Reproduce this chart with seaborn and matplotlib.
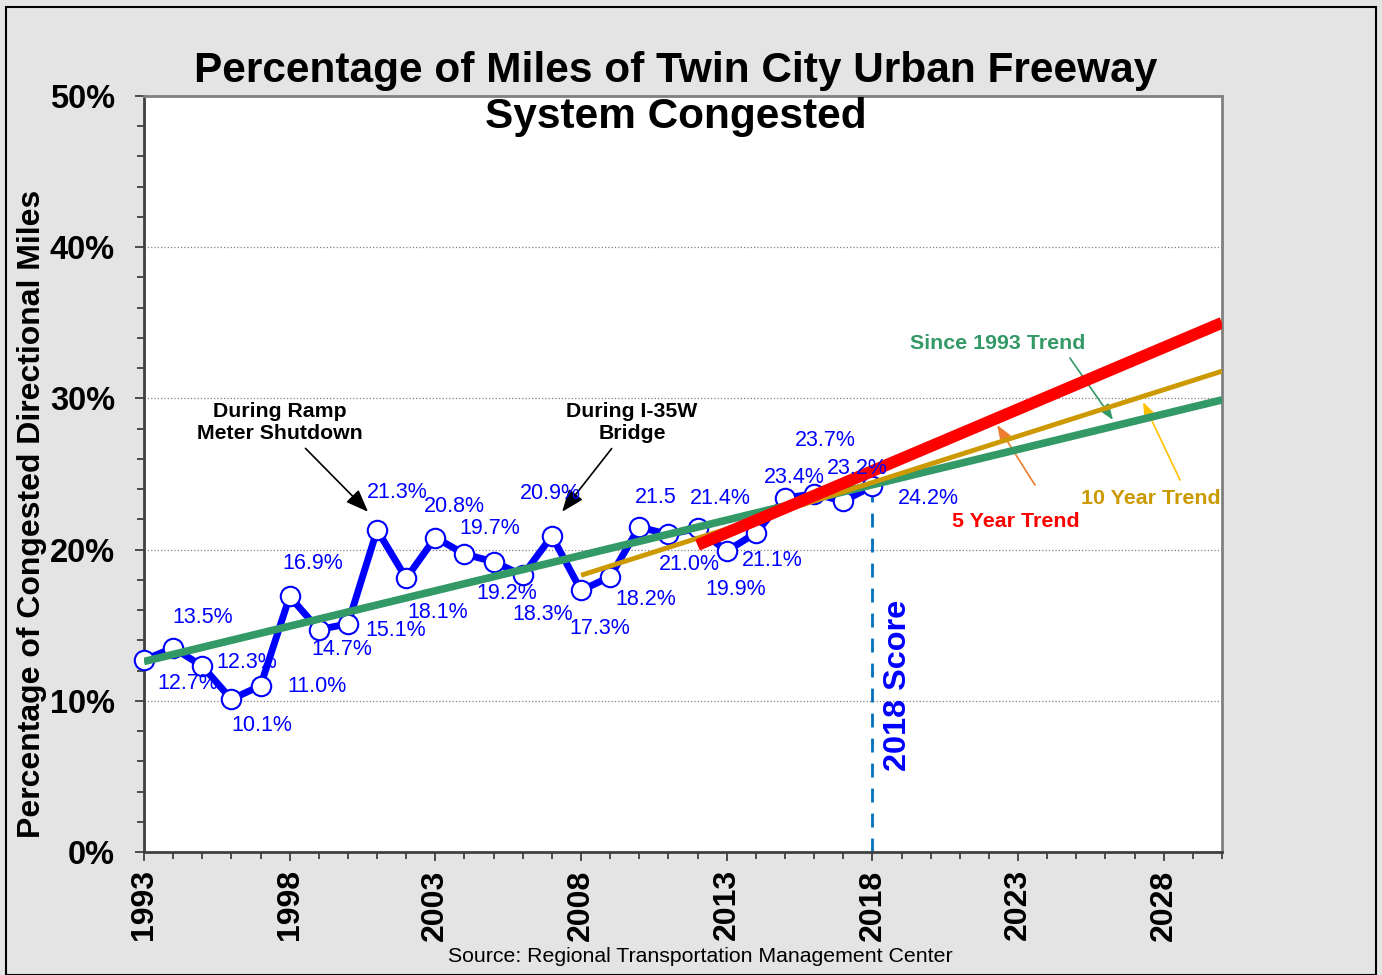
import seaborn as sns
import matplotlib.pyplot as plt
import matplotlib.ticker as mticker
from matplotlib.patches import Rectangle
import pandas as pd

# congestion data, 1993-2018
years = list(range(1993, 2019))
pct = [12.7, 13.5, 12.3, 10.1, 11.0, 16.9, 14.7, 15.1, 21.3, 18.1,
       20.8, 19.7, 19.2, 18.3, 20.9, 17.3, 18.2, 21.5, 21.0, 21.4,
       19.9, 21.1, 23.4, 23.7, 23.2, 24.2]
point_labels = ["12.7%", "13.5%", "12.3%", "10.1%", "11.0%", "16.9%", "14.7%",
                "15.1%", "21.3%", "18.1%", "20.8%", "19.7%", "19.2%", "18.3%",
                "20.9%", "17.3%", "18.2%", "21.5", "21.0%", "21.4%", "19.9%",
                "21.1%", "23.4%", "23.7%", "23.2%", "24.2%"]

# trend lines (start / end)
trend_names = ["Since 1993 Trend", "10 Year Trend", "5 Year Trend"]
trend_years = [[1993, 2030], [2008, 2030], [2012, 2030]]
trend_values = [[12.6, 29.9], [18.3, 31.8], [20.3, 35.0]]

year_ticks = list(range(1993, 2031, 5))

# label offsets in pixels (right, down) from each point
label_offsets = [(44, 24), (30, -30), (44, -4), (30, 26), (56, 1), (23, -33),
                 (23, 20), (48, 7), (20, -37), (31, 34), (19, -31), (25, -26),
                 (13, 32), (20, 39), (-2, -42), (19, 38), (36, 23), (16, -29),
                 (21, 30), (23, -30), (9, 38), (16, 28), (9, -21), (11, -53),
                 (14, -33), (56, 12)]

sns.set_theme(style="white")
plt.rcParams['font.family'] = ['Liberation Sans', 'DejaVu Sans']
plt.rcParams['text.color'] = 'black'
plt.rcParams['xtick.color'] = 'black'
plt.rcParams['ytick.color'] = 'black'

BLUE = '#0000FF'
trend_colors = ['#339966', '#CC9900', '#FF0000']
trend_widths = [5.5, 3.5, 8.5]

fig = plt.figure(figsize=(13.82, 9.75), dpi=100)
fig.patch.set_facecolor('#e4e4e4')
fig.patches.append(Rectangle((6 / 1382, 0), 1370 / 1382, 1 - 7 / 975,
                             transform=fig.transFigure, fill=False,
                             edgecolor='black', lw=1.5))
ax = fig.add_axes([144 / 1382, 1 - 852 / 975, 1078 / 1382, 756 / 975])
ax.set_facecolor('white')

df = pd.DataFrame({"year": years, "pct": pct})

# 2018 score marker line
ax.vlines(years[-1], 0, pct[-1], colors='#0070C0', linestyles=(0, (5, 4)),
          lw=2, zorder=1)

sns.lineplot(data=df, x="year", y="pct", ax=ax, color=BLUE, linewidth=5,
             marker='o', markersize=14, markerfacecolor='white',
             markeredgecolor=BLUE, markeredgewidth=1.5, zorder=3,
             clip_on=False)

for i in range(len(trend_names)):
    tdf = pd.DataFrame({"year": trend_years[i], "pct": trend_values[i]})
    sns.lineplot(data=tdf, x="year", y="pct", ax=ax, color=trend_colors[i],
                 linewidth=trend_widths[i], solid_capstyle='butt', zorder=4)

for yr, v, lab, (dx, dy) in zip(years, pct, point_labels, label_offsets):
    ax.annotate(lab, xy=(yr, v), xytext=(dx, -dy), textcoords='offset pixels',
                ha='center', va='center', color=BLUE, fontsize=15.5, zorder=5)

ax.set_xlim(1993, 2030)
ax.set_ylim(0, 50)
ax.xaxis.set_major_locator(mticker.FixedLocator(year_ticks))
ax.xaxis.set_minor_locator(mticker.MultipleLocator(1))
ax.yaxis.set_major_locator(mticker.MultipleLocator(10))
ax.yaxis.set_minor_locator(mticker.MultipleLocator(2))
ax.yaxis.set_major_formatter(mticker.FuncFormatter(lambda v, p: f"{v:.0f}%"))
ax.xaxis.set_major_formatter(mticker.FuncFormatter(lambda v, p: f"{v:.0f}"))
ax.tick_params(axis='both', which='both', bottom=True, left=True,
               direction='out', width=1.3, color='#404040')
ax.tick_params(axis='both', which='major', length=6.5)
ax.tick_params(axis='both', which='minor', length=5)
ax.tick_params(axis='x', which='major', labelsize=23, pad=6)
ax.tick_params(axis='y', which='major', labelsize=23.5, pad=14.5)
plt.xticks(rotation=90, weight='bold')
plt.yticks(weight='bold')
ax.yaxis.grid(True, which='major', linestyle=':', color='#808080', lw=0.9)
ax.set_axisbelow(True)
ax.set(xlabel='', ylabel='')
for side in ['left', 'bottom']:
    ax.spines[side].set_color('#404040')
    ax.spines[side].set_linewidth(2)
for side in ['top', 'right']:
    ax.spines[side].set_color('#808080')
    ax.spines[side].set_linewidth(2)

# callouts
ax.annotate("During Ramp\nMeter Shutdown", xy=(2000.69, 22.5),
            xytext=(1997.67, 28.4), ha='center', va='center', fontsize=15.3,
            weight='bold', color='black',
            arrowprops=dict(arrowstyle='-|>,head_width=0.35,head_length=0.9',
                            color='black', lw=1.2, shrinkA=2, shrinkB=0))
ax.annotate("During I-35W\nBridge", xy=(2007.35, 22.5),
            xytext=(2009.75, 28.4), ha='center', va='center', fontsize=15.3,
            weight='bold', color='black',
            arrowprops=dict(arrowstyle='-|>,head_width=0.35,head_length=0.9',
                            color='black', lw=1.2, shrinkA=2, shrinkB=0))

ax.text(2022.31, 33.6, trend_names[0], ha='center', va='center',
        fontsize=15.4, weight='bold', color=trend_colors[0])
ax.annotate('', xy=(2026.26, 28.57), xytext=(2024.78, 32.67),
            arrowprops=dict(arrowstyle='-|>,head_width=0.3,head_length=0.8',
                            color=trend_colors[0], lw=1.2, shrinkA=0, shrinkB=0))
ax.text(2022.93, 21.89, trend_names[2], ha='center', va='center',
        fontsize=15.4, weight='bold', color=trend_colors[2])
ax.annotate('', xy=(2022.28, 28.24), xytext=(2023.58, 24.27),
            arrowprops=dict(arrowstyle='-|>,head_width=0.3,head_length=0.8',
                            color='#ED7D31', lw=1.2, shrinkA=0, shrinkB=0))
ax.text(2027.56, 23.41, trend_names[1], ha='center', va='center',
        fontsize=15.4, weight='bold', color=trend_colors[1])
ax.annotate('', xy=(2027.29, 29.76), xytext=(2028.56, 24.6),
            arrowprops=dict(arrowstyle='-|>,head_width=0.3,head_length=0.8',
                            color='#FFC000', lw=1.2, shrinkA=0, shrinkB=0))

ax.text(2018.88, 11.0, "2018 Score", rotation=90, ha='center', va='center',
        fontsize=23.4, weight='bold', color=BLUE)

fig.text(676 / 1382, 1 - 94 / 975,
         "Percentage of Miles of Twin City Urban Freeway\nSystem Congested",
         ha='center', va='center', fontsize=30.5, weight='bold',
         multialignment='center', linespacing=1.2)
fig.text(32 / 1382, 1 - 514 / 975, "Percentage of Congested Directional Miles",
         rotation=90, ha='center', va='center', fontsize=23, weight='bold')
fig.text(700 / 1382, 1 - 957 / 975,
         "Source: Regional Transportation Management Center",
         ha='center', va='center', fontsize=15.3)

plt.savefig("out.png", dpi=100)
